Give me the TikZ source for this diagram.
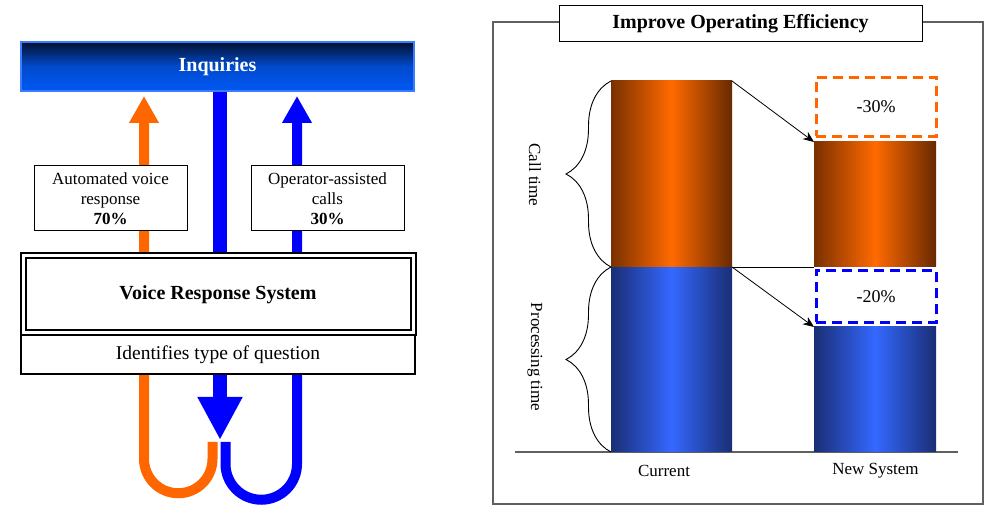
\documentclass[tikz,border=0pt]{standalone}
\usepackage{fontspec}
\setmainfont{Liberation Serif}
\usepackage{tikz}
\usetikzlibrary{
    arrows.meta,
    decorations.pathreplacing,
    backgrounds,
    calc,
    positioning
}
\definecolor{flowOrange}{HTML}{FF6600}
\definecolor{flowBlue}{HTML}{0000FF}
\definecolor{inqTop}{HTML}{04102E}
\definecolor{inqBot}{HTML}{0058F2}
\definecolor{inqEdge}{HTML}{3C7CFF}
\definecolor{barOrDark}{HTML}{7A3000}
\definecolor{barOrLight}{HTML}{FF6A00}
\definecolor{barBlDark}{HTML}{1A2E75}
\definecolor{barBlLight}{HTML}{3468FF}
\definecolor{frameGray}{HTML}{606060}
\tikzset{
    plainbox/.style={draw, line width=1pt, fill=white, inner sep=0pt, outer sep=0pt, align=center},
    orangebar/.style={inner sep=0pt, outer sep=0pt, minimum width=121pt, anchor=south west,
        left color=barOrDark, right color=barOrDark!85!black, middle color=barOrLight},
    bluebar/.style={inner sep=0pt, outer sep=0pt, minimum width=121pt, anchor=south west,
        left color=barBlDark, right color=barBlDark, middle color=barBlLight},
    dashbox/.style={draw, line width=3pt, dash pattern=on 10pt off 6pt, inner sep=0pt,
        minimum width=120pt, font=\fontsize{18}{22}\selectfont},
    flow/.style={line width=10pt, -{Triangle[length=27pt,width=28pt]}, shorten >=5pt},
    ubend/.style={line width=10pt}
}

\begin{document}
\begin{tikzpicture}[x=1pt, y=1pt]
    \useasboundingbox (0,0) rectangle (991,505);
    % left panel
    \node[draw=inqEdge, line width=2pt, top color=inqTop, bottom color=inqBot, middle color=inqBot!85!black,
        minimum width=393pt, minimum height=49pt, inner sep=0pt, text=white,
        font=\fontsize{20}{24}\selectfont\bfseries] (inq) at (217.5,438.5) {Inquiries};
    \node[draw, line width=2pt, double, double distance=3pt, fill=white,
        minimum width=390pt, minimum height=77pt, inner sep=0pt,
        font=\fontsize{20}{24}\selectfont\bfseries] (vrs) at (218,210.5) {Voice Response System};
    \node[plainbox, line width=2pt, minimum width=394pt, minimum height=39pt,
        font=\fontsize{19.5}{24}\selectfont] (ident) at (218,150.5) {Identifies type of question};
    \node[plainbox, minimum width=153pt, minimum height=65pt,
        font=\fontsize{17}{20}\selectfont] (auto) at (110.5,306.5) {Automated voice\\response\\\textbf{70\%}};
    \node[plainbox, minimum width=153pt, minimum height=65pt,
        font=\fontsize{17}{20}\selectfont] (oper) at (327.5,306.5) {Operator-assisted\\calls\\\textbf{30\%}};

    \coordinate (cTop) at (220,414);
    \coordinate (cTip) at (220,65);
    \coordinate (oU) at (212.5,63);
    \coordinate (oTip) at (144,414);
    \coordinate (bU) at (225.5,63);
    \coordinate (bTip) at (297,414);

    \begin{pgfonlayer}{background}
        \draw[flowBlue, line width=14pt, -{Triangle[length=43pt,width=42pt]}] (cTop) -- (cTip);
        \draw[flowOrange, flow] (oU) -- ++(0,-17) arc[start angle=0, end angle=-180, radius=34.25] -- (oTip);
        \draw[flowBlue, flow] (bU) -- ++(0,-22) arc[start angle=180, end angle=360, radius=35.75] -- (bTip);
    \end{pgfonlayer}

    % right panel
    \draw[frameGray, line width=1.5pt] (493,1) rectangle (983,483);
    \node[plainbox, minimum width=363pt, minimum height=36pt,
        font=\fontsize{20}{24}\selectfont\bfseries] (title) at (740.5,481) {Improve Operating Efficiency};
    \draw[frameGray, line width=1.5pt] (515,53) -- (958,53);

    \node[bluebar, minimum height=185pt] (curB) at (611,53) {};
    \node[orangebar, minimum height=186pt] (curO) at (611,238) {};
    \node[bluebar, minimum width=122pt, minimum height=125pt] (newB) at (814,53) {};
    \node[orangebar, minimum width=122pt, minimum height=125pt] (newO) at (814,238) {};

    \node[dashbox, draw=flowOrange, minimum height=59pt] (cut30) at (876,398) {-30\%};
    \node[dashbox, draw=flowBlue, minimum height=52pt] (cut20) at (876,208.5) {-20\%};

    \draw[line width=0.8pt] (curB.north east) -- (newO.south west);
    \draw[line width=0.8pt, -{Stealth[length=11pt,width=9pt]}] (curO.north east) -- (newO.north west);
    \draw[line width=0.8pt, -{Stealth[length=11pt,width=9pt]}] (curB.north east) -- (newB.north west);

    \draw[line width=0.9pt, decorate, decoration={brace, amplitude=45pt}] (curO.south west) -- (curO.north west);
    \draw[line width=0.9pt, decorate, decoration={brace, amplitude=45pt}] (curB.south west) -- (curB.north west);
    \node[rotate=-90, font=\fontsize{17}{20}\selectfont] (callT) at (535,330) {Call time};
    \node[rotate=-90, font=\fontsize{17}{20}\selectfont] (procT) at (535,148) {Processing time};

    \node[font=\fontsize{17}{20}\selectfont] (curL) at (664,34) {Current};
    \node[font=\fontsize{17}{20}\selectfont] (newL) at (875.5,34) {New System};
\end{tikzpicture}
\end{document}
